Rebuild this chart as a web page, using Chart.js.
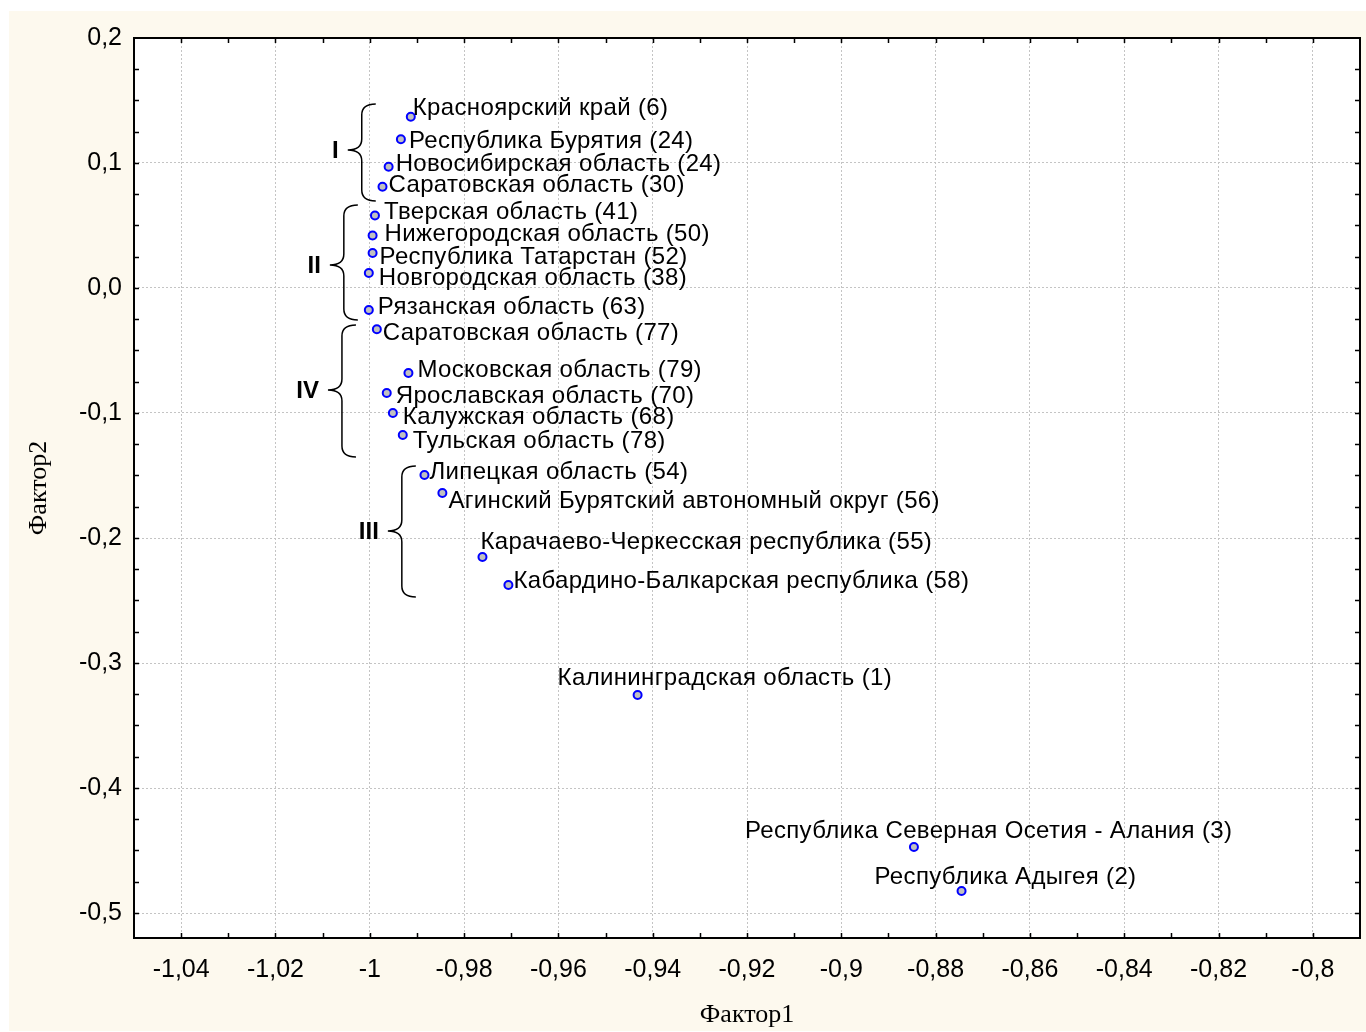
<!DOCTYPE html>
<html>
<head>
<meta charset="utf-8">
<script src="https://cdn.jsdelivr.net/npm/chart.js@4/dist/chart.umd.min.js"></script>
<style>
html,body{margin:0;padding:0;background:#ffffff;}
#wrap{width:1366px;height:1032px;position:relative;}
</style>
</head>
<body>
<div id="wrap"><canvas id="c" width="1366" height="1032"></canvas></div>
<script>
// ---- data ----
const regionNames = [
  'Красноярский край (6)',
  'Республика Бурятия (24)',
  'Новосибирская область (24)',
  'Саратовская область (30)',
  'Тверская область (41)',
  'Нижегородская область (50)',
  'Республика Татарстан (52)',
  'Новгородская область (38)',
  'Рязанская область (63)',
  'Саратовская область (77)',
  'Московская область (79)',
  'Ярославская область (70)',
  'Калужская область (68)',
  'Тульская область (78)',
  'Липецкая область (54)',
  'Агинский Бурятский автономный округ (56)',
  'Карачаево-Черкесская республика (55)',
  'Кабардино-Балкарская республика (58)',
  'Калининградская область (1)',
  'Республика Северная Осетия - Алания (3)',
  'Республика Адыгея (2)'
];
const factor1 = [-0.9913, -0.9934, -0.9960, -0.9973, -0.9989, -0.9994, -0.9994, -1.0002, -1.0002, -0.9985,
                 -0.9918, -0.9964, -0.9951, -0.9930, -0.9884, -0.9846, -0.9761, -0.9706, -0.9432, -0.8846, -0.8745];
const factor2 = [0.137, 0.119, 0.097, 0.081, 0.058, 0.042, 0.028, 0.012, -0.0176, -0.033,
                 -0.068, -0.084, -0.100, -0.1176, -0.1496, -0.164, -0.2152, -0.2376, -0.3256, -0.4472, -0.4824];
const xTickValues = [-1.04, -1.02, -1.00, -0.98, -0.96, -0.94, -0.92, -0.90, -0.88, -0.86, -0.84, -0.82, -0.80];
const xTickLabels = ['-1,04','-1,02','-1','-0,98','-0,96','-0,94','-0,92','-0,9','-0,88','-0,86','-0,84','-0,82','-0,8'];
const yTickValues = [-0.5, -0.4, -0.3, -0.2, -0.1, 0.0, 0.1, 0.2];
const yTickLabels = ['-0,5','-0,4','-0,3','-0,2','-0,1','0,0','0,1','0,2'];
const groupLabels = ['I', 'II', 'IV', 'III'];

// ---- annotation placement (styling, in axis units / pixel offsets) ----
const labelOffsets = [[2,-8],[8,2],[7,-2],[6,-1],[9,-3],[12,-1],[7,4],[10,5],[9,-3],[6,4],
                      [9,-3],[9,3],[10,4],[10,6],[5,-3],[6,8],[-2,-15],[5,-4],[-80,-17],[-169,-16],[-87,-14]];
const braceSpans = [
  {x:-1.0017, top:0.1472, bottom:0.0696, tip:0.1104},
  {x:-1.0055, top:0.0664, bottom:-0.0256, tip:0.0184},
  {x:-1.0059, top:-0.0296, bottom:-0.1352, tip:-0.0816},
  {x:-0.9932, top:-0.1424, bottom:-0.2472, tip:-0.1944}
];

const points = factor1.map((x, i) => ({x: x, y: factor2[i]}));

const LABEL_FONT = '24px "Liberation Sans", Arial, sans-serif';

const decorPlugin = {
  id: 'decor',
  beforeDraw(chart) {
    const ctx = chart.ctx, a = chart.chartArea;
    ctx.save();
    ctx.fillStyle = '#ffffff';
    ctx.fillRect(0, 0, chart.width, chart.height);
    ctx.fillStyle = '#fdf9ee';
    ctx.fillRect(9, 11, chart.width - 9, chart.height - 12);
    ctx.fillStyle = '#ffffff';
    ctx.fillRect(a.left, a.top, a.right - a.left, a.bottom - a.top);
    ctx.restore();
  },
  afterDatasetsDraw(chart) {
    const ctx = chart.ctx, a = chart.chartArea;
    const xs = chart.scales.x, ys = chart.scales.y;
    ctx.save();
    // point labels
    ctx.font = LABEL_FONT;
    if ('letterSpacing' in ctx) ctx.letterSpacing = '0.35px';
    ctx.fillStyle = '#000000';
    ctx.textAlign = 'left';
    ctx.textBaseline = 'middle';
    const meta = chart.getDatasetMeta(0);
    meta.data.forEach((el, i) => {
      const o = labelOffsets[i];
      ctx.fillText(regionNames[i], el.x + o[0], el.y + o[1]);
    });
    if ('letterSpacing' in ctx) ctx.letterSpacing = '0px';
    // braces
    ctx.strokeStyle = '#000000';
    ctx.lineWidth = 1.5;
    braceSpans.forEach((b, i) => {
      const x = xs.getPixelForValue(b.x);
      const t = ys.getPixelForValue(b.top);
      const bt = ys.getPixelForValue(b.bottom);
      const m = ys.getPixelForValue(b.tip);
      const w = 14, r = 11;
      ctx.beginPath();
      ctx.moveTo(x + w, t);
      ctx.quadraticCurveTo(x, t, x, t + r);
      ctx.lineTo(x, m - r);
      ctx.quadraticCurveTo(x, m, x - w, m);
      ctx.quadraticCurveTo(x, m, x, m + r);
      ctx.lineTo(x, bt - r);
      ctx.quadraticCurveTo(x, bt, x + w, bt);
      ctx.stroke();
      ctx.font = 'bold 24px "Liberation Sans", Arial, sans-serif';
      ctx.textAlign = 'right';
      ctx.fillText(groupLabels[i], x - w - 9, m + 1);
    });
    ctx.restore();
  },
  afterDraw(chart) {
    const ctx = chart.ctx, a = chart.chartArea;
    const xs = chart.scales.x, ys = chart.scales.y;
    ctx.save();
    ctx.strokeStyle = '#000000';
    ctx.lineWidth = 1.5;
    // inward ticks (major + minor) on all four sides
    const tl = 5;
    ctx.beginPath();
    const xStep = (xTickValues[1] - xTickValues[0]) / 2;
    for (let v = xTickValues[0] - 4 * xStep; v <= xTickValues[xTickValues.length - 1] + 4 * xStep + 1e-9; v += xStep) {
      const p = Math.round(xs.getPixelForValue(v)) + 0.5;
      if (p <= a.left + 2 || p >= a.right - 2) continue;
      ctx.moveTo(p, a.bottom); ctx.lineTo(p, a.bottom - tl);
      ctx.moveTo(p, a.top); ctx.lineTo(p, a.top + tl);
    }
    const yStep = (yTickValues[1] - yTickValues[0]) / 4;
    for (let v = yTickValues[0] - 4 * yStep; v <= yTickValues[yTickValues.length - 1] + 4 * yStep + 1e-9; v += yStep) {
      const p = Math.round(ys.getPixelForValue(v)) + 0.5;
      if (p <= a.top + 2 || p >= a.bottom - 2) continue;
      ctx.moveTo(a.left, p); ctx.lineTo(a.left + tl, p);
      ctx.moveTo(a.right, p); ctx.lineTo(a.right - tl, p);
    }
    ctx.stroke();
    // frame
    ctx.lineWidth = 2;
    ctx.strokeRect(a.left, a.top, a.right - a.left, a.bottom - a.top);
    ctx.restore();
  }
};

new Chart(document.getElementById('c'), {
  type: 'scatter',
  data: {
    datasets: [{
      data: points,
      pointRadius: 4,
      pointHoverRadius: 4,
      pointBackgroundColor: '#c0c0c0',
      pointBorderColor: '#0000ff',
      pointBorderWidth: 2
    }]
  },
  options: {
    responsive: false,
    animation: false,
    events: [],
    layout: {padding: {top: 38, right: 2, left: 0, bottom: 0}},
    plugins: {legend: {display: false}, tooltip: {enabled: false}},
    scales: {
      x: {
        type: 'linear',
        min: -1.05, max: -0.79,
        afterBuildTicks(scale) { scale.ticks = xTickValues.map(v => ({value: v})); },
        afterFit(scale) { scale.height = 94; },
        ticks: {
          autoSkip: false, maxRotation: 0,
          padding: 17,
          color: '#000000',
          font: {family: '"Liberation Sans", Arial, sans-serif', size: 25},
          callback: (v, i) => xTickLabels[i]
        },
        grid: {color: '#c4c4c4', lineWidth: 1, drawTicks: false},
        border: {display: false, dash: [2, 2]},
        title: {
          display: true, text: 'Фактор1', color: '#000000',
          font: {family: '"Liberation Serif", "Times New Roman", serif', size: 26},
          padding: {top: 0, bottom: 1}
        }
      },
      y: {
        type: 'linear',
        min: -0.52, max: 0.2,
        afterBuildTicks(scale) { scale.ticks = yTickValues.map(v => ({value: v})); },
        afterFit(scale) { scale.width = 134; },
        ticks: {
          autoSkip: false,
          padding: 12,
          color: '#000000',
          font: {family: '"Liberation Sans", Arial, sans-serif', size: 25},
          callback: (v, i) => yTickLabels[i]
        },
        grid: {color: '#c4c4c4', lineWidth: 1, drawTicks: false},
        border: {display: false, dash: [2, 2]},
        title: {
          display: true, text: 'Фактор2', color: '#000000',
          font: {family: '"Liberation Serif", "Times New Roman", serif', size: 26},
          padding: {top: 24, bottom: 0}
        }
      }
    }
  },
  plugins: [decorPlugin]
});
</script>
</body>
</html>
